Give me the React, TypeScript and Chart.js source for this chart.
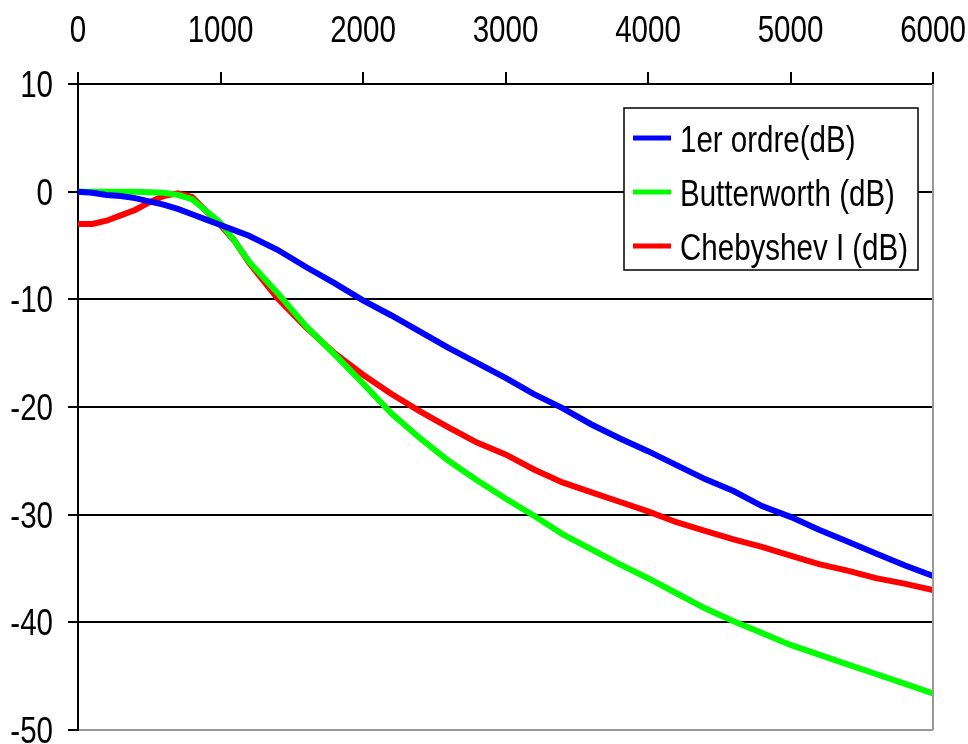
import React, { useEffect, useRef } from "react";
import { Chart, registerables } from "chart.js";

Chart.register(...registerables);

const frequencies = [0, 100, 200, 300, 400, 500, 600, 700, 800, 900, 1000, 1100, 1200, 1400, 1600, 1800, 2000, 2200, 2400, 2600, 2800, 3000, 3200, 3400, 3600, 3800, 4000, 4200, 4400, 4600, 4800, 5000, 5200, 5400, 5600, 5800, 6000];
const firstOrder = [0, -0.1, -0.3, -0.4, -0.6, -0.9, -1.2, -1.6, -2.1, -2.6, -3.1, -3.6, -4.1, -5.4, -7.0, -8.5, -10.1, -11.5, -13.0, -14.5, -15.9, -17.3, -18.8, -20.1, -21.6, -22.9, -24.1, -25.4, -26.7, -27.8, -29.2, -30.2, -31.4, -32.5, -33.6, -34.7, -35.7];
const butterworth = [0, 0, 0, 0, 0, -0.05, -0.1, -0.3, -0.7, -1.8, -2.9, -4.6, -6.5, -9.4, -12.5, -15.1, -17.8, -20.6, -22.9, -25.0, -26.8, -28.5, -30.1, -31.8, -33.2, -34.6, -35.9, -37.3, -38.7, -39.9, -41.0, -42.1, -43.0, -43.9, -44.8, -45.7, -46.6];
const chebyshev = [-3.0, -3.0, -2.7, -2.2, -1.7, -1.0, -0.4, -0.15, -0.5, -1.8, -3.1, -4.6, -6.6, -9.9, -12.6, -15.0, -17.0, -18.8, -20.4, -21.9, -23.3, -24.4, -25.8, -27.0, -27.9, -28.8, -29.7, -30.7, -31.5, -32.3, -33.0, -33.8, -34.6, -35.2, -35.9, -36.4, -37.0];
const seriesLabels = ["1er ordre(dB)", "Butterworth (dB)", "Chebyshev I (dB)"];
const seriesColors = ["#0000FF", "#00FF00", "#FF0000"];

const FONT = "'Liberation Sans', Arial, sans-serif";
const NARROW = 0.82;

function narrowText(ctx: CanvasRenderingContext2D, text: string, x: number, y: number, align: "left" | "right" | "center") {
  const w = ctx.measureText(text).width * NARROW;
  let left = x;
  if (align === "right") left = x - w;
  else if (align === "center") left = x - w / 2;
  ctx.save();
  ctx.translate(left, y);
  ctx.scale(NARROW, 1);
  ctx.textAlign = "left";
  ctx.fillText(text, 0, 0);
  ctx.restore();
}

const labelsPlugin = {
  id: "narrowLabels",
  afterDraw(chart: any) {
    const { ctx, chartArea, scales } = chart;
    ctx.save();
    ctx.font = `36px ${FONT}`;
    ctx.fillStyle = "#000";
    ctx.textBaseline = "alphabetic";
    scales.x.ticks.forEach((t: any) => {
      const px = scales.x.getPixelForValue(t.value);
      narrowText(ctx, String(t.value), px, chartArea.top - 42, "center");
    });
    scales.y.ticks.forEach((t: any) => {
      const py = scales.y.getPixelForValue(t.value);
      narrowText(ctx, String(t.value), chartArea.left - 25, py + 13, "right");
    });
    ctx.restore();
  },
};

const legendPlugin = {
  id: "boxLegend",
  afterDatasetsDraw(chart: any) {
    const { ctx, chartArea } = chart;
    ctx.save();
    ctx.strokeStyle = "#999";
    ctx.lineWidth = 2;
    ctx.beginPath();
    ctx.moveTo(chartArea.right, chartArea.top);
    ctx.lineTo(chartArea.right, chartArea.bottom);
    ctx.stroke();

    const boxRight = chartArea.right - 15;
    const boxLeft = boxRight - 294;
    const boxTop = chartArea.top + 24;
    const boxH = 162;
    ctx.fillStyle = "#fff";
    ctx.fillRect(boxLeft, boxTop, boxRight - boxLeft, boxH);
    ctx.strokeStyle = "#000";
    ctx.lineWidth = 1.5;
    ctx.strokeRect(boxLeft, boxTop, boxRight - boxLeft, boxH);
    ctx.font = `36px ${FONT}`;
    ctx.textBaseline = "alphabetic";
    chart.data.datasets.forEach((ds: any, i: number) => {
      const cy = boxTop + 30 + i * 54;
      ctx.strokeStyle = ds.borderColor;
      ctx.lineWidth = 5;
      ctx.beginPath();
      ctx.moveTo(boxLeft + 9, cy);
      ctx.lineTo(boxLeft + 47, cy);
      ctx.stroke();
      ctx.fillStyle = "#000";
      narrowText(ctx, ds.label, boxLeft + 56, cy + 14, "left");
    });
    ctx.restore();
  },
};

export default function App() {
  const ref = useRef<HTMLCanvasElement>(null);
  useEffect(() => {
    if (!ref.current) return;
    const mk = (vals: number[]) => frequencies.map((f, i) => ({ x: f, y: vals[i] }));
    const chart = new Chart(ref.current, {
      type: "line",
      data: {
        datasets: [firstOrder, butterworth, chebyshev].map((vals, i) => ({
          label: seriesLabels[i],
          data: mk(vals),
          borderColor: seriesColors[i],
          backgroundColor: seriesColors[i],
          borderWidth: 6,
          pointRadius: 0,
          tension: 0,
          fill: false,
        })),
      },
      options: {
        responsive: false,
        animation: false,
        layout: { padding: { left: 0, top: 0, right: 35, bottom: 14 } },
        plugins: { legend: { display: false }, tooltip: { enabled: false } },
        scales: {
          x: {
            type: "linear",
            position: "top",
            min: 0,
            max: 6000,
            afterFit: (s: any) => { s.height = 84; },
            ticks: { stepSize: 1000, color: "rgba(0,0,0,0)", font: { family: FONT, size: 12 }, maxRotation: 0 },
            grid: { drawOnChartArea: false, drawTicks: true, tickLength: 12, color: "#000", lineWidth: 2 },
            border: { color: "#000", width: 2 },
          },
          y: {
            min: -50,
            max: 10,
            afterFit: (s: any) => { s.width = 78; },
            ticks: { stepSize: 10, color: "rgba(0,0,0,0)", font: { family: FONT, size: 12 } },
            grid: {
              color: (c: any) => (c.tick && c.tick.value === -50 ? "#999" : "#000"),
              tickColor: "#000",
              lineWidth: 2,
              tickLength: 10,
            },
            border: { color: "#000", width: 2 },
          },
        },
      },
      plugins: [legendPlugin, labelsPlugin],
    });
    return () => chart.destroy();
  }, []);
  return (
    <div style={{ position: "fixed", left: 0, top: 0, width: 968, height: 744, background: "#fff" }}>
      <canvas ref={ref} width={968} height={744} />
    </div>
  );
}
